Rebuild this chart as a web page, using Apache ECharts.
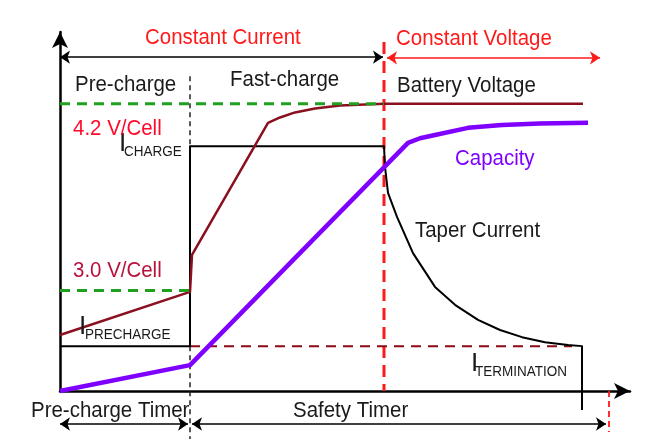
<!DOCTYPE html>
<html>
<head>
<meta charset="utf-8">
<script src="https://cdn.jsdelivr.net/npm/echarts@6/dist/echarts.min.js"></script>
<style>
  html, body { margin: 0; padding: 0; background: #fff; }
  #chart { width: 669px; height: 439px; }
</style>
</head>
<body>
<div id="chart"></div>
<script>
// ---- Data (abstract time units on x, normalised level 0..100 on y) ----
const X_MAX = 114;
const Y_MAX = 100;

const voltageX  = [0, 26, 26.4, 41.6, 44, 47, 51, 56, 64.8, 104.6];
const voltageY  = [15.6, 27.6, 37.9, 74.7, 76.2, 77.6, 78.7, 79.5, 80, 80];

const currentX  = [0, 26, 26, 64.8, 65, 65.6, 67.4, 70.6, 75, 79, 83.6, 88, 92.4, 97, 101.6, 104.4, 104.4];
const currentY  = [12.5, 12.5, 68.2, 68.2, 62.4, 55.2, 48.5, 38.4, 29, 24, 19.8, 17, 15, 13.6, 12.8, 12.5, -5.3];

const capacityX = [0, 26, 69.6, 72, 75, 81.6, 88.4, 96, 105.6];
const capacityY = [0, 7.2, 69.1, 70.4, 71.3, 73.3, 74.1, 74.5, 74.7];

const V42 = 80, V30 = 28;            // voltage thresholds
const I_PRE = 12.5, I_TERM = 12.5;   // current levels
const T_PRE = 26, T_CV = 64.8, T_TERM_END = 102.4, T_SAFETY = 109.8;
const PHASE_ARROW_Y = 93, TIMER_ARROW_Y = -9.2;

const zip = (xs, ys) => xs.map((x, i) => [x, ys[i]]);

// ---- Text labels ----
const FS = 22, SX = 0.93;
const labels = [
  { text: 'Constant Current', x: 145, y: 37.5, color: '#FF1A1A' },
  { text: 'Constant Voltage', x: 396, y: 38.5, color: '#FF1A1A' },
  { text: 'Pre-charge',       x: 75,  y: 85,   color: '#1a1a1a' },
  { text: 'Fast-charge',      x: 230, y: 80,   color: '#1a1a1a' },
  { text: 'Battery Voltage',  x: 397, y: 86,   color: '#1a1a1a' },
  { text: '4.2 V/Cell',       x: 73,  y: 129,  color: '#FF0A2A' },
  { text: 'Capacity',         x: 455, y: 158.5,color: '#7F00FF' },
  { text: 'Taper Current',    x: 415, y: 231,  color: '#1a1a1a' },
  { text: '3.0 V/Cell',       x: 73,  y: 271,  color: '#B8123C' },
  { text: 'Pre-charge Timer', x: 31,  y: 410.5,color: '#1a1a1a' },
  { text: 'Safety Timer',     x: 293, y: 410.5,color: '#1a1a1a' }
];
const currentLabels = [
  { main: 'I', sub: 'CHARGE',      x: 119, y: 144, sx: 124, sy: 152.3 },
  { main: 'I', sub: 'PRECHARGE',   x: 79,  y: 327, sx: 85,  sy: 334.8 },
  { main: 'I', sub: 'TERMINATION', x: 471, y: 364, sx: 475, sy: 372.3 }
];

const FONT = 'Liberation Sans, Arial, sans-serif';
const graphics = [];
labels.forEach(l => graphics.push({
  type: 'text', x: l.x, y: l.y, scaleX: SX, z: 100,
  style: { text: l.text, fill: l.color, fontSize: FS, fontFamily: FONT,
           align: 'left', verticalAlign: 'middle' }
}));
currentLabels.forEach(l => {
  graphics.push({ type: 'text', x: l.x, y: l.y, z: 99,
    style: { text: l.main, fill: '#1a1a1a', fontSize: 26, fontFamily: FONT,
             align: 'left', verticalAlign: 'middle' } });
  graphics.push({ type: 'text', x: l.sx, y: l.sy, scaleX: 0.9, z: 99,
    style: { text: l.sub, fill: '#1a1a1a', fontSize: 15, fontFamily: FONT,
             align: 'left', verticalAlign: 'middle' } });
});

const lineSeries = (name, data, color, width, type, z) => ({
  name, type: 'line', data, showSymbol: false, symbol: 'none', clip: false, z,
  lineStyle: { color, width, type: type || 'solid', cap: 'butt', join: 'round' },
  silent: true, animation: false
});

const arrowItem = (x1, x2, y, color) => ({
  coords: [[x1, y], [x2, y]],
  lineStyle: { color, width: 1.6, type: 'solid', opacity: 1 }
});

const option = {
  animation: false,
  backgroundColor: '#ffffff',
  grid: { left: 60, right: 39, top: 32, bottom: 48 },
  xAxis: {
    type: 'value', min: 0, max: X_MAX,
    axisLine: { show: true, onZero: false, symbol: ['none', 'arrow'], symbolSize: [12, 16],
                lineStyle: { color: '#000', width: 2.5 } },
    axisTick: { show: false }, axisLabel: { show: false }, splitLine: { show: false }
  },
  yAxis: {
    type: 'value', min: 0, max: Y_MAX,
    axisLine: { show: true, onZero: false, symbol: ['none', 'arrow'], symbolSize: [12, 16],
                lineStyle: { color: '#000', width: 2.5 } },
    axisTick: { show: false }, axisLabel: { show: false }, splitLine: { show: false }
  },
  series: [
    lineSeries('Pre-charge boundary', [[T_PRE, 87.7], [T_PRE, -13.6]], '#222', 1.5, [5, 4], 2),
    lineSeries('CV boundary', [[T_CV, 97.2], [T_CV, 0]], '#FF1A1A', 3, [12, 7], 3),
    lineSeries('Safety end', [[T_SAFETY, 0], [T_SAFETY, -11.4]], '#FF1A1A', 1.8, [6, 4], 3),
    lineSeries('I termination', [[T_PRE, I_TERM], [T_TERM_END, I_TERM]], '#8B0A14', 2, [10, 7], 3),
    lineSeries('Current', zip(currentX, currentY), '#000', 2, 'solid', 4),
    lineSeries('Battery Voltage', zip(voltageX, voltageY), '#8A1020', 2.5, 'solid', 5),
    lineSeries('4.2V', [[0, V42], [T_CV, V42]], '#1FA01F', 3, [10, 7], 6),
    lineSeries('3.0V', [[0, V30], [T_PRE, V30]], '#1FA01F', 3, [10, 7], 6),
    lineSeries('Capacity', zip(capacityX, capacityY), '#7F00FF', 4.5, 'solid', 7),
    {
      name: 'arrows', type: 'lines', coordinateSystem: 'cartesian2d', clip: false, z: 8,
      silent: true, animation: false,
      symbol: ['arrow', 'arrow'], symbolSize: 10,
      lineStyle: { width: 1.6, opacity: 1 },
      data: [
        arrowItem(0, 64.6, PHASE_ARROW_Y, '#000'),
        arrowItem(65.4, 108, PHASE_ARROW_Y - 0.2, '#FF1A1A'),
        arrowItem(0, 25.6, TIMER_ARROW_Y, '#000'),
        arrowItem(26.4, 109.2, TIMER_ARROW_Y, '#000')
      ]
    }
  ],
  graphic: graphics
};

const chart = echarts.init(document.getElementById('chart'), null, { renderer: 'canvas' });
chart.setOption(option);
</script>
</body>
</html>
